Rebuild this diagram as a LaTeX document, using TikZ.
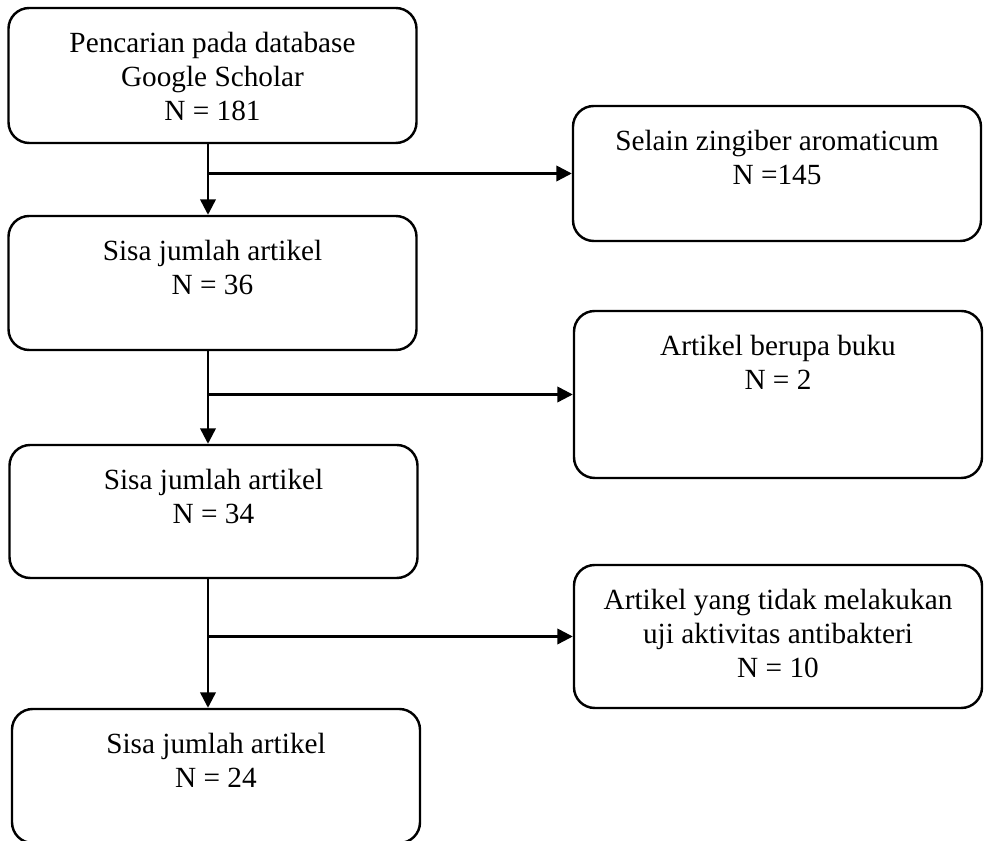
\documentclass[tikz,border=0pt]{standalone}
\usepackage{fontspec}
\setmainfont{Liberation Serif}
\usetikzlibrary{arrows.meta,positioning}

\begin{document}
\begin{tikzpicture}[x=0.41pt,y=0.41pt,line width=1pt,
		box/.style={draw,rounded corners=8.5pt,minimum width=408*0.41pt,minimum height=#1*0.41pt,inner sep=0pt},
		txt/.style={align=center,inner sep=0pt,font=\fontsize{12}{14}\selectfont},
		arr/.style={-{Triangle[length=6.3pt,width=6.3pt]}}]
	\useasboundingbox (0,0) rectangle (984,-841);
	% kotak kiri
	\node[box=135] (b_1) at (212.5,-75.5) {};
	\node[box=134] (b_2) at (212.5,-283) {};
	\node[box=133] (b_3) at (213.5,-511.5) {};
	\node[box=134] (b_4) at (216,-776) {};
	% kotak kanan
	\node[box=135] (r_1) at (777,-173.5) {};
	\node[box=167] (r_2) at (778,-394.5) {};
	\node[box=143] (r_3) at (778,-636.5) {};
	% teks
	\node[txt,below=9.8pt of b_1.north] (t_1) {Pencarian pada database\\Google Scholar\\N = 181};
	\node[txt,below=9.8pt of b_2.north] (t_2) {Sisa jumlah artikel\\N = 36};
	\node[txt,below=9.8pt of b_3.north] (t_3) {Sisa jumlah artikel\\N = 34};
	\node[txt,below=9.8pt of b_4.north] (t_4) {Sisa jumlah artikel\\N = 24};
	\node[txt,below=9.8pt of r_1.north] (u_1) {Selain zingiber aromaticum\\N =145};
	\node[txt,below=9.8pt of r_2.north] (u_2) {Artikel berupa buku\\N = 2};
	\node[txt,below=9.8pt of r_3.north] (u_3) {Artikel yang tidak melakukan\\uji aktivitas antibakteri\\N = 10};
	% panah
	\coordinate (j_1) at (208,0 |- r_1.west);
	\coordinate (j_2) at (208,0 |- r_2.west);
	\coordinate (j_3) at (208,0 |- r_3.west);
	\draw[arr] (b_1.south -| j_1) -- (b_2.north -| j_1);
	\draw[arr] (j_1) -- (r_1.west);
	\draw[arr] (b_2.south -| j_2) -- (b_3.north -| j_2);
	\draw[arr] (j_2) -- (r_2.west);
	\draw[arr] (b_3.south -| j_3) -- (b_4.north -| j_3);
	\draw[arr] (j_3) -- (r_3.west);
\end{tikzpicture}
\end{document}
